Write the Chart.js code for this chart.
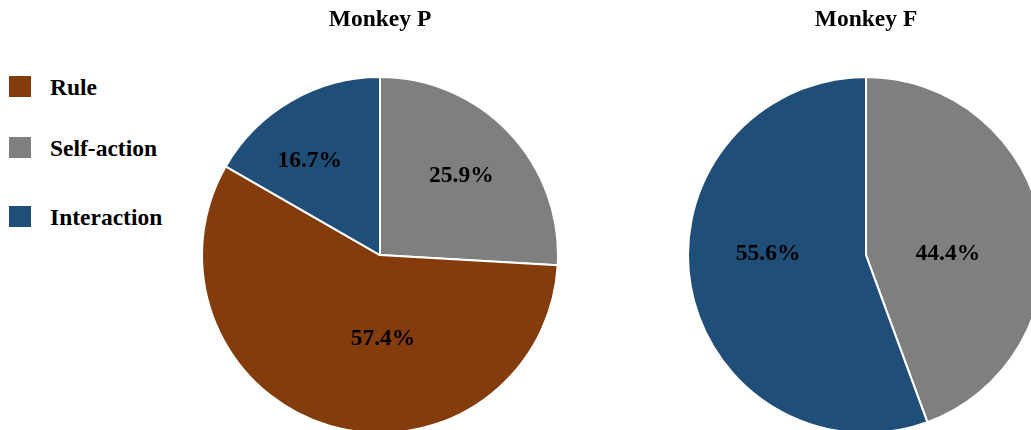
<!DOCTYPE html>
<html>
<head>
<meta charset="utf-8">
<script src="https://cdn.jsdelivr.net/npm/chart.js@4.4.1/dist/chart.umd.min.js"></script>
<style>
  html, body { margin: 0; padding: 0; background: #fff; overflow: hidden; }
  body { width: 1031px; height: 430px; position: relative; font-family: 'Liberation Serif', 'Times New Roman', serif; }
  .pie { position: absolute; top: 0; width: 358px; height: 440px; }
  #legend { position: absolute; left: 9px; top: 0; }
  .item { position: absolute; left: 0; white-space: nowrap; font-weight: bold; font-size: 23.5px; line-height: 22px; }
  .item span.box { position: absolute; left: 0; top: 0; width: 22px; height: 21px; }
  .item span.txt { position: absolute; left: 41px; top: 0; }
</style>
</head>
<body>
<div id="legend"></div>
<div class="pie" style="left:201px"><canvas id="pieP"></canvas></div>
<div class="pie" style="left:687px"><canvas id="pieF"></canvas></div>
<script>
// slice order, clockwise from 12 o'clock
var categories = ['Self-action', 'Rule', 'Interaction'];
var legendOrder = ['Rule', 'Self-action', 'Interaction'];
var monkeyP = [25.9, 57.4, 16.7];
var monkeyF = [44.4, 0, 55.6];

var colors = {
  'Rule': '#843C0C',
  'Self-action': '#7F7F7F',
  'Interaction': '#1F4E79'
};

// legend
var legend = document.getElementById('legend');
var legendTops = [76, 137, 206];
legendOrder.forEach(function(name, i) {
  var row = document.createElement('div');
  row.className = 'item';
  row.style.top = legendTops[i] + 'px';
  row.innerHTML = '<span class="box" style="background:' + colors[name] + '"></span><span class="txt">' + name + '</span>';
  legend.appendChild(row);
});

// percent labels placed inside each slice
var sliceLabels = {
  id: 'sliceLabels',
  afterDatasetsDraw: function(chart, args, opts) {
    var ctx = chart.ctx;
    var data = chart.data.datasets[0].data;
    ctx.save();
    ctx.font = 'bold 23.5px "Liberation Serif", "Times New Roman", serif';
    ctx.fillStyle = '#000';
    ctx.textAlign = 'center';
    ctx.textBaseline = 'middle';
    chart.getDatasetMeta(0).data.forEach(function(arc, i) {
      if (!data[i]) return;
      var p = arc.getProps(['x', 'y', 'startAngle', 'endAngle', 'outerRadius'], true);
      var a = (p.startAngle + p.endAngle) / 2 + opts.shift[i] * Math.PI / 180;
      var r = p.outerRadius * opts.dist[i];
      ctx.fillText(data[i].toFixed(1) + '%', p.x + Math.cos(a) * r, p.y + Math.sin(a) * r);
    });
    ctx.restore();
  }
};

function makePie(id, title, values, shift, dist) {
  var canvas = document.getElementById(id);
  canvas.width = 358;
  canvas.height = 440;
  return new Chart(canvas, {
    type: 'pie',
    data: {
      labels: categories,
      datasets: [{
        data: values,
        backgroundColor: categories.map(function(c) { return colors[c]; }),
        borderColor: '#ffffff',
        borderWidth: 2
      }]
    },
    options: {
      responsive: false,
      animation: false,
      layout: { padding: 0 },
      plugins: {
        legend: { display: false },
        tooltip: { enabled: false },
        title: {
          display: true,
          text: title,
          color: '#000',
          font: { family: "'Liberation Serif', 'Times New Roman', serif", size: 23.5, weight: 'bold' },
          padding: { top: 6, bottom: 36 }
        },
        sliceLabels: { shift: shift, dist: dist }
      }
    },
    plugins: [sliceLabels]
  });
}

makePie('pieP', 'Monkey P', monkeyP, [-1, -18.6, -6.7], [0.64, 0.47, 0.66]);
makePie('pieF', 'Monkey F', monkeyF, [9.4, 0, 10.7], [0.46, 0, 0.55]);
</script>
</body>
</html>
